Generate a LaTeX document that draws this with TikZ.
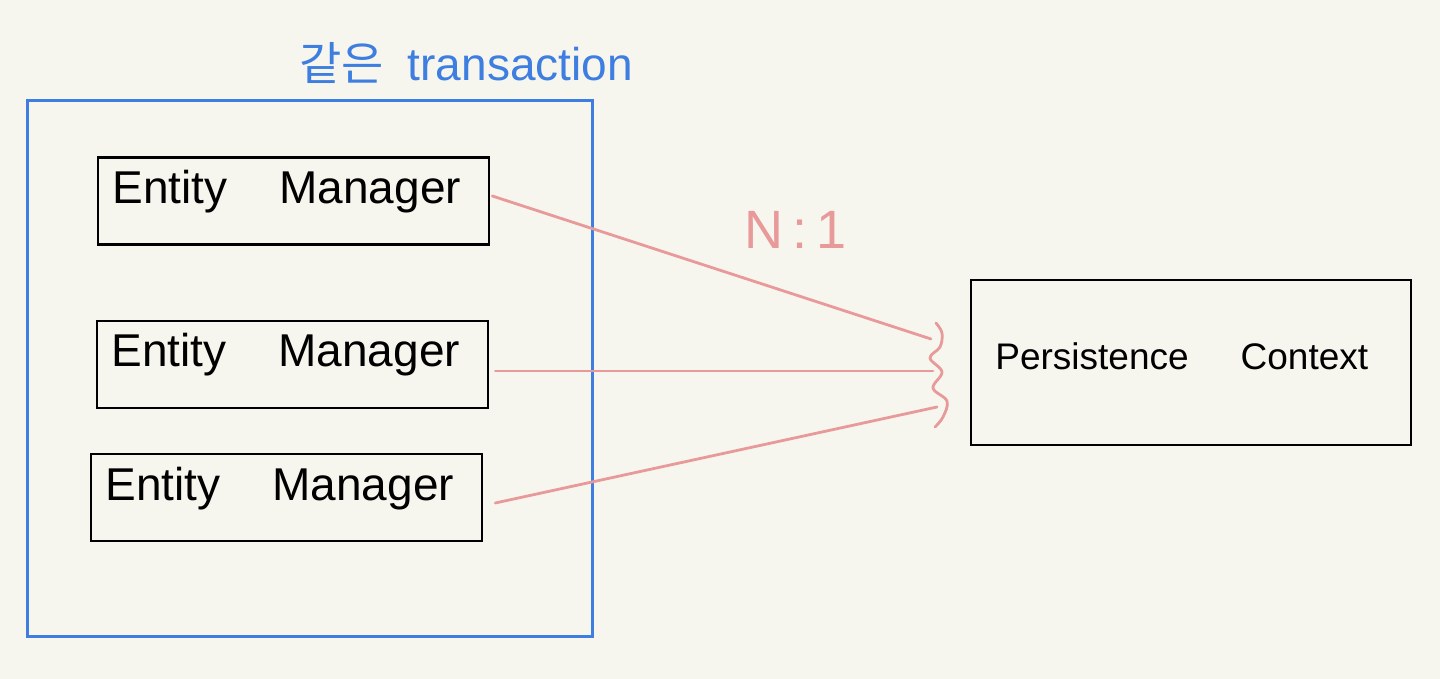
\documentclass[tikz,border=0pt]{standalone}
\usepackage{fontspec}
\setmainfont{Liberation Sans}
\newfontfamily\cjk{Noto Sans CJK KR}
\definecolor{bgc}{HTML}{F7F6EE}
\definecolor{tblue}{HTML}{3D7EE0}
\definecolor{tpink}{HTML}{E89A9A}
\begin{document}
\begin{tikzpicture}[x=0.5pt,y=-0.5pt,
  embox/.style={draw=black,line width=1.3pt,minimum width=195.5pt,minimum height=43.5pt,inner sep=0pt},
  pcbox/.style={draw=black,line width=1.3pt,minimum width=220pt,minimum height=82.5pt,inner sep=0pt},
  emtext/.style={font=\fontsize{23}{26}\selectfont,anchor=west,inner sep=0pt},
  link/.style={draw=tpink,line width=1.4pt,line cap=round}]
\useasboundingbox[fill=bgc] (0,0) rectangle (1440,679);
% transaction frame
\node[draw=tblue,line width=1.5pt,minimum width=282.5pt,minimum height=267.5pt,inner sep=0pt] (tx) at (309.5,368.5) {};
\node[text=tblue,font=\fontsize{23}{26}\selectfont,anchor=center] (txl) at (466,63) {{\cjk 같은}\hspace{12pt}transaction};
% entity managers
\node[embox] (em1) at (293.5,201) {};
\node[embox] (em2) at (292.5,364.5) {};
\node[embox] (em3) at (286.5,497.5) {};
\node[emtext] (t1) at (112,192) {Entity\hspace{26pt}Manager};
\node[emtext] (t2) at (111,355) {Entity\hspace{26pt}Manager};
\node[emtext] (t3) at (105,489) {Entity\hspace{26pt}Manager};
% persistence context
\node[pcbox] (pc) at (1191,362.5) {};
\node[font=\fontsize{18.5}{22}\selectfont,anchor=west,inner sep=0pt] (pct) at (995,356) {Persistence\hspace{26pt}Context};
% label
\node[text=tpink,font=\fontsize{27}{30}\selectfont] (nl) at (796,230) {N\,:\,1};
% squiggle
\draw[tpink,line width=1.4pt,line cap=round] plot[smooth,tension=0.6] coordinates {(936,323) (942,333) (940,347) (930,358) (942,372) (933,388) (947,401) (943,417) (935,427)};
\coordinate (e1) at (931,339);
\coordinate (e2) at (933,371);
\coordinate (e3) at (937,407);
\draw[link] ([xshift=1pt,yshift=2.5pt]em1.east) -- (e1);
\draw[link] ([xshift=3pt,yshift=-3.25pt]em2.east) -- (e2);
\draw[link] ([xshift=6pt,yshift=-2.75pt]em3.east) -- (e3);
\end{tikzpicture}
\end{document}
